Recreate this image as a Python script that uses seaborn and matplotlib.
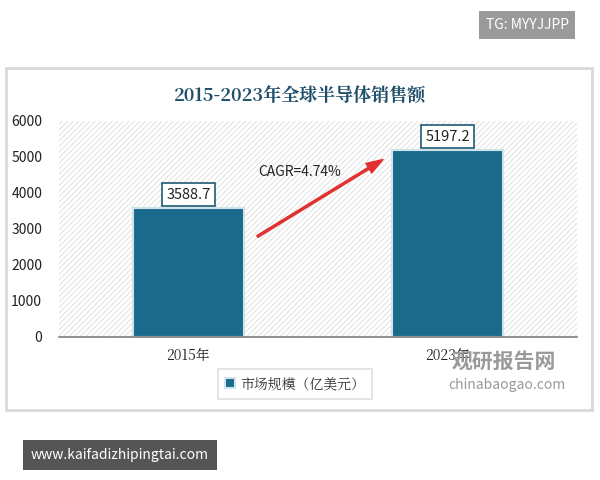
import matplotlib.pyplot as plt
import seaborn as sns
import pandas as pd
from matplotlib.patches import Rectangle, FancyArrowPatch

years = ['2015年', '2023年']
sales = [3588.7, 5197.2]
cagr_label = 'CAGR=4.74%'
series_name = '市场规模（亿美元）'

sns.set_theme(style='white')
plt.rcParams['font.family'] = ['Noto Sans CJK SC', 'DejaVu Sans']
plt.rcParams['hatch.color'] = '#dcdcdc'
plt.rcParams['hatch.linewidth'] = 0.6

df = pd.DataFrame({'year': years, 'sales': sales})

fig = plt.figure(figsize=(6, 4.8), dpi=100)
fig.patch.set_facecolor('white')

# outer panel
panel = Rectangle((0.01, 1 - 410 / 480), 0.977, (410 - 68) / 480, transform=fig.transFigure,
                  facecolor='white', edgecolor='#d9d9d9', lw=2, zorder=-5)
fig.patches.append(panel)

ax = fig.add_axes([0.098, 0.298, 0.864, 0.45])
ax.patch.set_alpha(0)
ax.add_patch(Rectangle((0, 0), 1, 1, transform=ax.transAxes, facecolor='white',
                       hatch='//////', edgecolor='#dcdcdc', lw=0, zorder=0))
sns.barplot(data=df, x='year', y='sales', color='#1b6a8c', saturation=1, width=0.43, ax=ax,
            edgecolor='#cfe3ea', linewidth=1.5, zorder=2, label=series_name)
ax.set_ylim(0, 6000)
ax.set_xlim(-0.5, 1.5)
ax.set_yticks(range(0, 6001, 1000))
ax.set_xlabel('')
ax.set_ylabel('')
for s in ['top', 'right', 'left']:
    ax.spines[s].set_visible(False)
ax.spines['bottom'].set_color('#7f7f7f')
ax.spines['bottom'].set_linewidth(1.2)
ax.tick_params(axis='y', labelsize=10, colors='#222222', length=0, pad=12)
ax.tick_params(axis='x', labelsize=10, colors='#222222', length=0, pad=8)
for lab in ax.get_xticklabels():
    lab.set_family(['Noto Serif CJK SC', 'DejaVu Serif'])

for i, v in enumerate(sales):
    ax.text(i, v + 170, f'{v}', ha='center', va='bottom', fontsize=10.5, color='#222222',
            bbox=dict(boxstyle='square,pad=0.3', facecolor='white', edgecolor='#1f5a73', lw=1.2), zorder=4)

ax.add_patch(FancyArrowPatch((0.257, 2750), (0.76, 4970), arrowstyle='simple,head_width=8,head_length=12,tail_width=1.5',
                             color='#e03030', zorder=5, mutation_scale=1))
ax.text(0.43, 4580, cagr_label, ha='center', va='center', fontsize=10, color='#222222')

fig.text(0.5, 1 - 97 / 480, '2015-2023年全球半导体销售额', ha='center', va='center', fontsize=13,
         fontweight='bold', color='#1f4e6a', family=['Noto Serif CJK SC', 'Noto Sans CJK SC'])

leg = ax.legend(loc='center', bbox_to_anchor=(295 / 600, 1 - 384 / 480), bbox_transform=fig.transFigure,
                frameon=True, fancybox=False, fontsize=10, handlelength=0.7, handleheight=0.7,
                borderpad=0.5, handletextpad=0.4, borderaxespad=0)
leg.get_frame().set_edgecolor('#d9d9d9')
leg.get_frame().set_linewidth(1.2)
for t in leg.get_texts():
    t.set_color('#333333')
    t.set_family(['Noto Serif CJK SC', 'Noto Sans CJK SC'])
    t.set_text('            ' + series_name + '            ')
    t.set_text(series_name)
# widen frame to match reference box
leg._legend_box.set_width = None

# watermarks
fig.text(452 / 600, 1 - 361 / 480, '观研报告网', fontsize=15, fontweight='bold', color='#9a9a9a', va='center')
fig.text(448 / 600, 1 - 385 / 480, 'chinabaogao.com', fontsize=10, color='#9a9a9a', va='center')
fig.text(527 / 600, 1 - 25 / 480, 'TG: MYYJJPP', fontsize=10, color='white', ha='center', va='center',
         bbox=dict(boxstyle='square,pad=0.5', facecolor='#9a9a9a', edgecolor='none'))
fig.text(120 / 600, 1 - 455 / 480, 'www.kaifadizhipingtai.com', fontsize=10, color='white', ha='center',
         va='center', bbox=dict(boxstyle='square,pad=0.55', facecolor='#555555', edgecolor='none'))

fig.savefig('out.png', dpi=100, facecolor='white')
